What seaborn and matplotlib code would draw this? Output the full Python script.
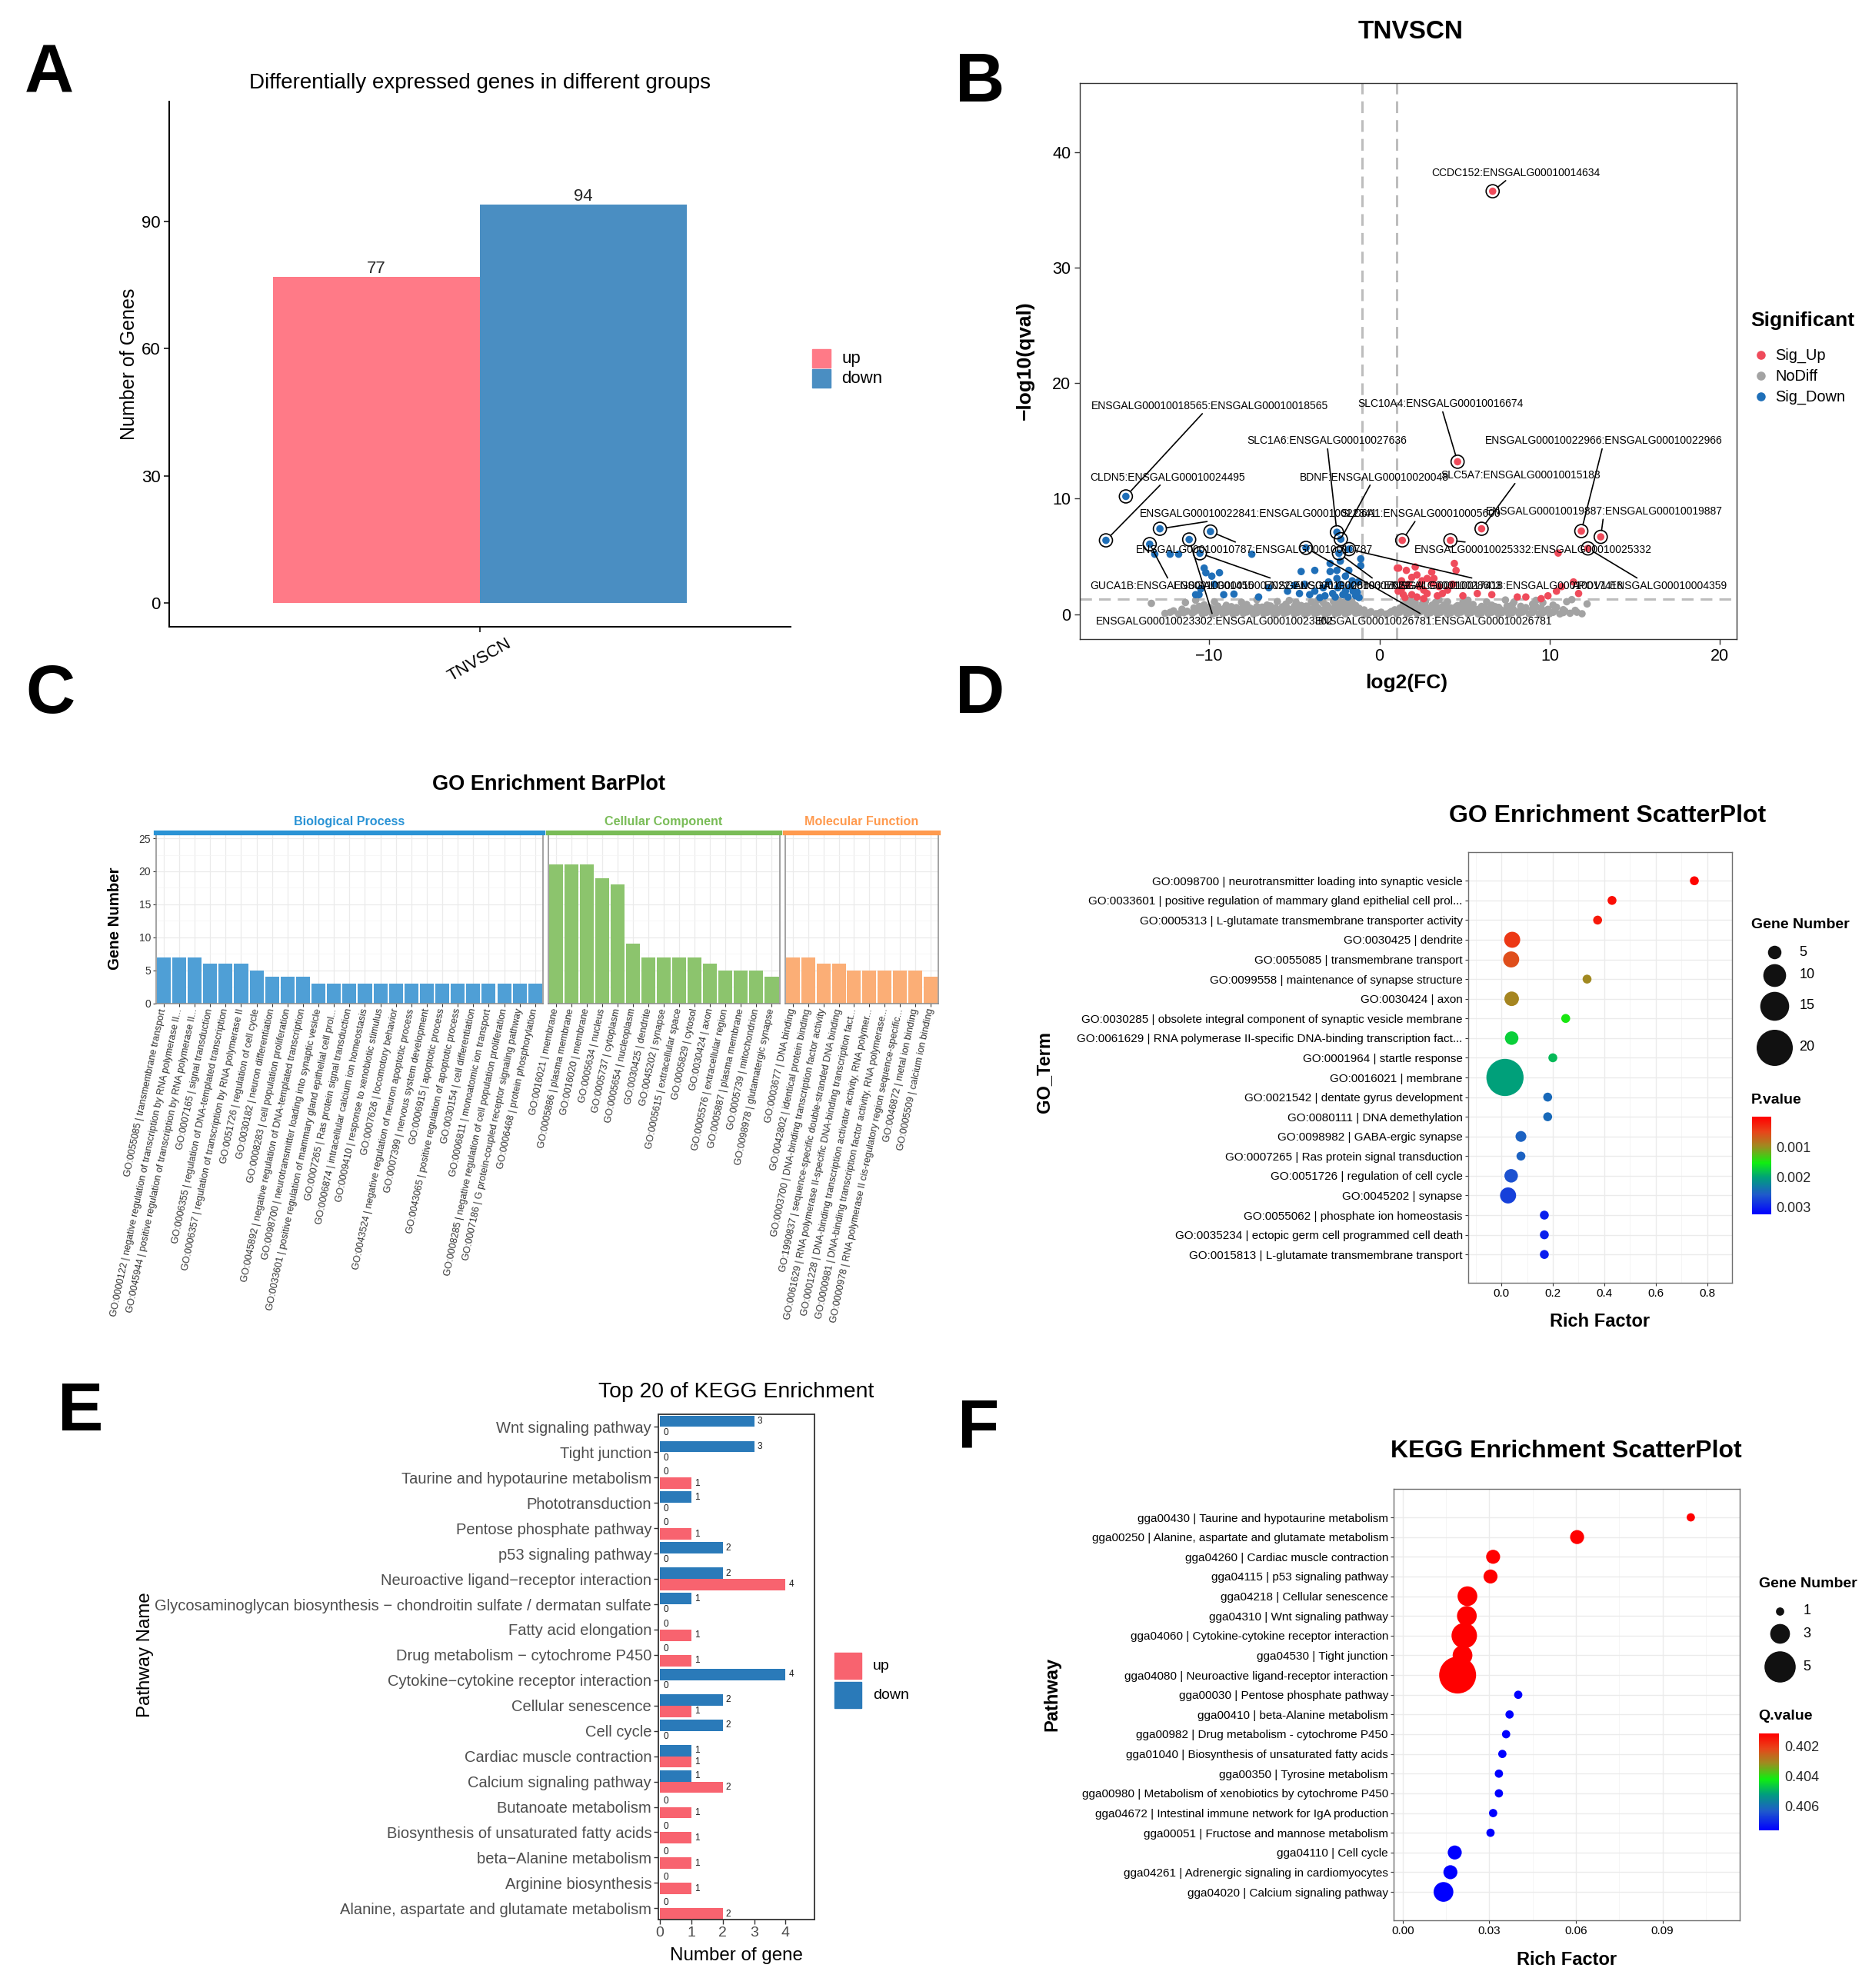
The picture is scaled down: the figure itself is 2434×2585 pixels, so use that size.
import numpy as np
import pandas as pd
import matplotlib
matplotlib.use("Agg")
import matplotlib.pyplot as plt
import seaborn as sns
from matplotlib.colors import LinearSegmentedColormap, Normalize
from matplotlib.patches import Rectangle
from matplotlib.ticker import MultipleLocator
import matplotlib.cm as mcm

# ============================ DATA ============================
# --- Panel A: DEG counts
deg_group = "TNVSCN"
deg_types = ["up", "down"]
deg_counts = [77, 94]

# --- Panel B: volcano (log2FC, -log10 qval)
vol_nodiff_x = [-12.6, -11.8, -11.0, -10.4, -9.8, -9.2, -8.6, -8.0, -7.4, -6.8, -6.2, -5.6, -5.0, -4.4,
                -3.8, -3.2, -2.6, -2.0, -1.4, -0.8, -0.2, 0.4, 1.0, 1.6, 2.2, 2.8, 3.4, 4.0, 4.6, 5.2,
                5.8, 6.4, 7.0, 7.6, 8.2, 8.8, 9.4, 10.0, 10.6, 11.2, 11.9,
                -12.1, -11.3, -10.7, -10.1, -9.5, -8.9, -8.3, -7.7, -7.1, -6.5, -5.9, -5.3, -4.7, -4.1,
                -3.5, -2.9, -2.3, -1.7, -1.1, -0.5, 0.1, 0.7, 1.3, 1.9, 2.5, 3.1, 3.7, 4.3, 4.9, 5.5,
                6.1, 6.7, 7.3, 7.9, 8.5, 9.1, 9.7, 10.3, 10.9, 11.5,
                -10.9, -10.0, -9.1, -8.4, -7.6, -6.9, -6.1, -5.4, -4.8, -4.2, -3.6, -3.0, -2.4, -1.8,
                -1.2, 1.2, 1.8, 2.4, 3.0, 3.6, 4.2, 4.8, 5.5, 6.2, 7.0, 7.8, 8.6, 9.5, 10.4,
                -13.4, -10.3, -9.0, -7.8, -6.6, -5.5, -4.6, -3.8, -3.1, -2.5, -1.9, -1.4, 1.4, 1.9,
                2.5, 3.1, 3.8, 4.6, 5.5, 6.6, 7.8, 9.0, 10.2, 12.2,
                -11.4, -9.7, -8.1, -6.0, -4.9, -4.0, -3.3, -2.7, -2.1, -1.6, 1.6, 2.1, 2.7, 3.3, 4.0,
                4.9, 6.3, 7.9, 9.6, 11.0,
                -10.8, -7.2, -5.3, -3.6, -2.4, -1.8, 1.8, 2.6, 3.5, 5.2, 7.4, 9.2, 11.3,
                -12.3, -11.5, -10.9, -10.2, -9.6, -9.0, -8.4, -7.8, -7.2, -6.6, -6.0, -5.4, -4.8,
                -4.2, -3.6, -3.0, -2.4, -1.8, -1.2, -0.6, 0.0, 0.6, 1.2, 1.8, 2.4, 3.0, 3.6, 4.2,
                4.8, 5.4, 6.0, 6.6, 7.2, 7.8, 8.4, 9.0, 9.6, 10.2, 10.8, 11.6,
                -11.6, -10.4, -9.8, -9.2, -8.6, -8.0, -7.3, -6.7, -6.2, -5.7, -5.1, -4.5, -3.9,
                -3.3, -2.7, -2.1, -1.5, -0.9, 0.9, 1.5, 2.1, 2.7, 3.3, 3.9, 4.5, 5.1, 5.8, 6.4,
                7.1, 7.7, 8.3, 9.0, 9.9, 10.8,
                -10.6, -9.5, -8.7, -8.0, -7.2, -6.4, -5.7, -5.0, -4.3, -3.7, -3.1, -2.6, -2.1,
                -1.6, 1.6, 2.1, 2.7, 3.3, 3.9, 4.5, 5.2, 6.0, 6.8, 7.5, 8.3, 9.2]
vol_nodiff_y = [0.08, 0.03, 0.10, 0.05, 0.02, 0.07, 0.04, 0.09, 0.03, 0.06, 0.02, 0.08, 0.05, 0.03,
                0.07, 0.02, 0.06, 0.04, 0.09, 0.03, 0.05, 0.02, 0.07, 0.04, 0.08, 0.03, 0.06, 0.02,
                0.09, 0.05, 0.03, 0.07, 0.04, 0.02, 0.08, 0.05, 0.03, 0.06, 0.04, 0.09, 0.05,
                0.30, 0.26, 0.35, 0.28, 0.33, 0.25, 0.38, 0.29, 0.34, 0.27, 0.31, 0.36, 0.26, 0.32,
                0.29, 0.37, 0.27, 0.33, 0.30, 0.22, 0.18, 0.24, 0.35, 0.28, 0.31, 0.26, 0.34, 0.29,
                0.36, 0.27, 0.32, 0.25, 0.30, 0.35, 0.28, 0.33, 0.26, 0.31, 0.27, 0.34,
                0.55, 0.60, 0.52, 0.58, 0.54, 0.62, 0.56, 0.51, 0.59, 0.57, 0.53, 0.61, 0.55, 0.58,
                0.52, 0.54, 0.60, 0.56, 0.51, 0.59, 0.55, 0.62, 0.53, 0.57, 0.60, 0.52, 0.58, 0.55, 0.61,
                0.95, 0.82, 0.78, 0.85, 0.80, 0.88, 0.76, 0.83, 0.79, 0.86, 0.81, 0.77, 0.84, 0.78,
                0.87, 0.80, 0.83, 0.76, 0.85, 0.79, 0.82, 0.88, 0.80, 0.90,
                1.02, 1.08, 1.04, 1.10, 1.03, 1.07, 1.01, 1.09, 1.05, 1.02, 1.06, 1.03, 1.10, 1.04,
                1.08, 1.02, 1.07, 1.05, 1.01, 1.09,
                1.22, 1.26, 1.20, 1.25, 1.21, 1.27, 1.23, 1.20, 1.26, 1.22, 1.24, 1.21, 1.27,
                0.17, 0.14, 0.19, 0.16, 0.13, 0.18, 0.15, 0.20, 0.14, 0.17, 0.12, 0.19, 0.16,
                0.13, 0.18, 0.15, 0.14, 0.19, 0.16, 0.12, 0.10, 0.13, 0.18, 0.15, 0.20, 0.14, 0.17,
                0.13, 0.19, 0.16, 0.12, 0.18, 0.15, 0.14, 0.19, 0.16, 0.13, 0.17, 0.15, 0.18,
                0.44, 0.41, 0.46, 0.42, 0.45, 0.40, 0.47, 0.43, 0.41, 0.46, 0.44, 0.42, 0.45,
                0.40, 0.47, 0.43, 0.41, 0.38, 0.39, 0.45, 0.42, 0.46, 0.41, 0.44, 0.40, 0.47, 0.43,
                0.45, 0.41, 0.44, 0.42, 0.46, 0.43, 0.40,
                0.68, 0.71, 0.66, 0.70, 0.67, 0.72, 0.65, 0.69, 0.71, 0.66, 0.70, 0.67, 0.72,
                0.68, 0.69, 0.66, 0.71, 0.67, 0.70, 0.65, 0.72, 0.68, 0.66, 0.71, 0.69, 0.67]
vol_down_x = [-13.2, -12.3, -11.8, -10.6, -10.2, -9.4, -9.7, -9.15, -10.5, -10.8, -8.55, -7.5, -6.5,
              -7.1, -4.6, -3.8, -4.4, -2.9, -2.9, -2.5, -2.5, -2.3, -2.0, -1.7, -1.55, -1.1, -3.3,
              -3.8, -2.75, -2.15, -1.4, -1.85, -3.2, -4.1, -4.7, -1.25, -2.45, -3.0, -5.0, -5.4,
              -1.8, -2.3, -1.1, -1.3, -1.6, -2.0, -2.6, -3.5, -1.2, -9.85, -10.3]
vol_down_y = [5.2, 5.2, 5.2, 1.7, 3.6, 3.6, 2.6, 1.7, 2.2, 1.7, 1.75, 5.2, 2.3,
              1.5, 3.7, 3.8, 2.6, 4.4, 3.7, 3.8, 3.1, 2.6, 3.3, 2.4, 2.0, 4.8, 2.3,
              2.0, 1.8, 1.7, 1.6, 1.5, 1.6, 1.7, 1.8, 2.8, 2.3, 2.8, 2.5, 2.0,
              3.8, 4.6, 4.2, 1.9, 2.9, 2.0, 1.5, 1.45, 1.45, 3.3, 4.0]
vol_up_x = [1.13, 1.58, 2.1, 2.2, 2.8, 1.3, 1.7, 1.3, 2.35, 3.1, 3.5, 3.2, 4.4, 4.5, 4.3, 3.7, 2.8,
            1.9, 1.4, 1.1, 3.4, 4.9, 5.75, 6.6, 8.1, 8.6, 9.5, 10.4, 10.5, 11.4, 11.7, 2.6, 1.05,
            3.07, 2.5, 1.9, 2.6, 4.0, 1.5, 2.2, 10.7, 9.9]
vol_up_y = [4.0, 3.8, 4.1, 3.4, 3.1, 2.9, 2.6, 2.2, 2.4, 2.7, 2.4, 3.1, 4.4, 3.8, 2.6, 1.8, 1.8,
            1.7, 1.7, 2.0, 1.6, 1.6, 1.8, 1.7, 1.5, 1.5, 1.35, 2.0, 5.3, 2.8, 1.8, 1.35, 4.0,
            3.65, 2.9, 3.2, 2.1, 2.1, 1.45, 1.5, 2.4, 1.6]
vol_label_genes = ["CCDC152:ENSGALG00010014634", "SLC10A4:ENSGALG00010016674",
                   "ENSGALG00010022966:ENSGALG00010022966", "ENSGALG00010019887:ENSGALG00010019887",
                   "SLC5A7:ENSGALG00010015183", "SLC6A1:ENSGALG00010005600",
                   "ENSGALG00010025332:ENSGALG00010025332", "APOV1:ENSGALG00010004359",
                   "ENSGALG00010017418:ENSGALG00010017418", "ENSGALG00010028603:ENSGALG00010028603",
                   "CLDN5:ENSGALG00010024495", "ENSGALG00010018565:ENSGALG00010018565",
                   "SLC1A6:ENSGALG00010027636", "BDNF:ENSGALG00010020048",
                   "ENSGALG00010022841:ENSGALG00010022841", "ENSGALG00010010787:ENSGALG00010010787",
                   "GUCA1B:ENSGALG00010001455", "ENSGALG00010023302:ENSGALG00010023302",
                   "ENSGALG00010007022:ENSGALG00010007022", "ENSGALG00010026781:ENSGALG00010026781"]
vol_label_x = [6.65, 4.59, 11.86, 13.0, 6.0, 1.34, 4.17, 12.25, -1.79, -2.38,
               -16.07, -14.9, -2.5, -2.27, -12.9, -9.93, -13.5, -11.18, -10.55, -4.32]
vol_label_y = [36.6, 13.2, 7.2, 6.7, 7.4, 6.4, 6.4, 5.7, 5.64, 5.28,
               6.4, 10.2, 7.1, 6.5, 7.4, 7.16, 6.07, 6.47, 5.28, 5.75]
vol_label_sig = ["Sig_Up"] * 8 + ["Sig_Down"] * 12

# --- Panel C: GO bar plot
go_bp_terms = ["GO:0055085 | transmembrane transport",
               "GO:0000122 | negative regulation of transcription by RNA polymerase II...",
               "GO:0045944 | positive regulation of transcription by RNA polymerase II...",
               "GO:0007165 | signal transduction",
               "GO:0006355 | regulation of DNA-templated transcription",
               "GO:0006357 | regulation of transcription by RNA polymerase II",
               "GO:0051726 | regulation of cell cycle",
               "GO:0030182 | neuron differentiation",
               "GO:0008283 | cell population proliferation",
               "GO:0045892 | negative regulation of DNA-templated transcription",
               "GO:0098700 | neurotransmitter loading into synaptic vesicle",
               "GO:0033601 | positive regulation of mammary gland epithelial cell prol...",
               "GO:0007265 | Ras protein signal transduction",
               "GO:0006874 | intracellular calcium ion homeostasis",
               "GO:0009410 | response to xenobiotic stimulus",
               "GO:0007626 | locomotory behavior",
               "GO:0043524 | negative regulation of neuron apoptotic process",
               "GO:0007399 | nervous system development",
               "GO:0006915 | apoptotic process",
               "GO:0043065 | positive regulation of apoptotic process",
               "GO:0030154 | cell differentiation",
               "GO:0006811 | monoatomic ion transport",
               "GO:0008285 | negative regulation of cell population proliferation",
               "GO:0007186 | G protein-coupled receptor signaling pathway",
               "GO:0006468 | protein phosphorylation"]
go_bp_counts = [7, 7, 7, 6, 6, 6, 5, 4, 4, 4, 3, 3, 3, 3, 3, 3, 3, 3, 3, 3, 3, 3, 3, 3, 3]
go_cc_terms = ["GO:0016021 | membrane", "GO:0005886 | plasma membrane", "GO:0016020 | membrane",
               "GO:0005634 | nucleus", "GO:0005737 | cytoplasm", "GO:0005654 | nucleoplasm",
               "GO:0030425 | dendrite", "GO:0045202 | synapse", "GO:0005615 | extracellular space",
               "GO:0005829 | cytosol", "GO:0030424 | axon", "GO:0005576 | extracellular region",
               "GO:0005887 | plasma membrane", "GO:0005739 | mitochondrion",
               "GO:0098978 | glutamatergic synapse"]
go_cc_counts = [21, 21, 21, 19, 18, 9, 7, 7, 7, 7, 6, 5, 5, 5, 4]
go_mf_terms = ["GO:0003677 | DNA binding", "GO:0042802 | identical protein binding",
               "GO:0003700 | DNA-binding transcription factor activity",
               "GO:1990837 | sequence-specific double-stranded DNA binding",
               "GO:0061629 | RNA polymerase II-specific DNA-binding transcription fact...",
               "GO:0001228 | DNA-binding transcription activator activity, RNA polymer...",
               "GO:0000981 | DNA-binding transcription factor activity, RNA polymerase...",
               "GO:0000978 | RNA polymerase II cis-regulatory region sequence-specific...",
               "GO:0046872 | metal ion binding", "GO:0005509 | calcium ion binding"]
go_mf_counts = [7, 7, 6, 6, 5, 5, 5, 5, 5, 4]

# --- Panel D: GO scatter
gos_terms = ["GO:0098700 | neurotransmitter loading into synaptic vesicle",
             "GO:0033601 | positive regulation of mammary gland epithelial cell prol...",
             "GO:0005313 | L-glutamate transmembrane transporter activity",
             "GO:0030425 | dendrite", "GO:0055085 | transmembrane transport",
             "GO:0099558 | maintenance of synapse structure", "GO:0030424 | axon",
             "GO:0030285 | obsolete integral component of synaptic vesicle membrane",
             "GO:0061629 | RNA polymerase II-specific DNA-binding transcription fact...",
             "GO:0001964 | startle response", "GO:0016021 | membrane",
             "GO:0021542 | dentate gyrus development", "GO:0080111 | DNA demethylation",
             "GO:0098982 | GABA-ergic synapse", "GO:0007265 | Ras protein signal transduction",
             "GO:0051726 | regulation of cell cycle", "GO:0045202 | synapse",
             "GO:0055062 | phosphate ion homeostasis",
             "GO:0035234 | ectopic germ cell programmed cell death",
             "GO:0015813 | L-glutamate transmembrane transport"]
gos_rich = [0.75, 0.43, 0.374, 0.042, 0.038, 0.333, 0.04, 0.25, 0.04, 0.20, 0.014,
            0.18, 0.18, 0.076, 0.076, 0.038, 0.026, 0.167, 0.167, 0.167]
gos_genes = [3, 3, 3, 7, 7, 3, 6, 3, 5, 3, 21, 3, 3, 4, 3, 5, 7, 3, 3, 3]
gos_pvalue = [0.00003, 0.0001, 0.00018, 0.0004, 0.00055, 0.00098, 0.00095, 0.0015, 0.00173,
              0.00186, 0.00202, 0.00248, 0.00248, 0.00254, 0.00254, 0.00267, 0.0028,
              0.00303, 0.00303, 0.00305]

# --- Panel E: KEGG top 20 (up / down)
kegg_paths = ["Wnt signaling pathway", "Tight junction", "Taurine and hypotaurine metabolism",
              "Phototransduction", "Pentose phosphate pathway", "p53 signaling pathway",
              "Neuroactive ligand\u2212receptor interaction",
              "Glycosaminoglycan biosynthesis \u2212 chondroitin sulfate / dermatan sulfate",
              "Fatty acid elongation", "Drug metabolism \u2212 cytochrome P450",
              "Cytokine\u2212cytokine receptor interaction", "Cellular senescence", "Cell cycle",
              "Cardiac muscle contraction", "Calcium signaling pathway", "Butanoate metabolism",
              "Biosynthesis of unsaturated fatty acids", "beta\u2212Alanine metabolism",
              "Arginine biosynthesis", "Alanine, aspartate and glutamate metabolism"]
kegg_down = [3, 3, 0, 1, 0, 2, 2, 1, 0, 0, 4, 2, 2, 1, 1, 0, 0, 0, 0, 0]
kegg_up = [0, 0, 1, 0, 1, 0, 4, 0, 1, 1, 0, 1, 0, 1, 2, 1, 1, 1, 1, 2]

# --- Panel F: KEGG scatter
keggs_terms = ["gga00430 | Taurine and hypotaurine metabolism",
               "gga00250 | Alanine, aspartate and glutamate metabolism",
               "gga04260 | Cardiac muscle contraction", "gga04115 | p53 signaling pathway",
               "gga04218 | Cellular senescence", "gga04310 | Wnt signaling pathway",
               "gga04060 | Cytokine-cytokine receptor interaction", "gga04530 | Tight junction",
               "gga04080 | Neuroactive ligand-receptor interaction",
               "gga00030 | Pentose phosphate pathway", "gga00410 | beta-Alanine metabolism",
               "gga00982 | Drug metabolism - cytochrome P450",
               "gga01040 | Biosynthesis of unsaturated fatty acids",
               "gga00350 | Tyrosine metabolism",
               "gga00980 | Metabolism of xenobiotics by cytochrome P450",
               "gga04672 | Intestinal immune network for IgA production",
               "gga00051 | Fructose and mannose metabolism", "gga04110 | Cell cycle",
               "gga04261 | Adrenergic signaling in cardiomyocytes",
               "gga04020 | Calcium signaling pathway"]
keggs_rich = [0.0998, 0.0604, 0.0313, 0.0304, 0.0224, 0.0222, 0.0213, 0.0207, 0.019, 0.040,
              0.037, 0.0358, 0.0345, 0.0333, 0.0333, 0.0313, 0.0304, 0.018, 0.0165, 0.0141]
keggs_genes = [1, 2, 2, 2, 3, 3, 4, 3, 6, 1, 1, 1, 1, 1, 1, 1, 1, 2, 2, 3]
keggs_qvalue = [0.40119] * 9 + [0.40761] * 11

# ============================ STYLE ============================
sns.set_theme(style="white")
plt.rcParams["font.family"] = ["Liberation Sans", "DejaVu Sans"]
plt.rcParams["axes.unicode_minus"] = True

W, H = 1470.0, 1561.0
fig = plt.figure(figsize=(24.34, 25.85), dpi=100)
fig.patch.set_facecolor("white")


def box(x0, y0, x1, y1):
    return [x0 / W, 1 - y1 / H, (x1 - x0) / W, (y1 - y0) / H]


def PT(d):
    return d * (2434.0 / W) * 72.0 / 100.0


ov = fig.add_axes([0, 0, 1, 1], zorder=20)
ov.set_xlim(0, W)
ov.set_ylim(H, 0)
ov.axis("off")
ov.patch.set_alpha(0)


def T(x, y, s, size, bold=False, ha="center", va="center", rot=0, color="black"):
    ov.text(x, y, s, fontsize=size, fontweight="bold" if bold else "normal",
            ha=ha, va=va, rotation=rot, color=color)


CMAP = LinearSegmentedColormap.from_list(
    "pv", [(0.0, "#FF0000"), (0.15, "#E8451A"), (0.30, "#A08A20"), (0.47, "#10EE10"),
           (0.62, "#00A07A"), (0.80, "#1F5ACB"), (1.0, "#0000FF")])

# panel letters
for L, x, y in [("A", 19, 72.8), ("B", 750, 80), ("C", 20, 560), ("D", 750, 560),
                ("E", 45, 1123), ("F", 752, 1137)]:
    T(x, y, L, 64, bold=True, ha="left", va="baseline")

# ============================ PANEL A ============================
UPC, DNC = "#FF7A87", "#4A8EC2"
axA = fig.add_axes(box(132.6, 79.7, 620.6, 492.3))
dfA = pd.DataFrame({"group": [deg_group] * len(deg_types), "type": deg_types, "count": deg_counts})
sns.barplot(data=dfA, x="group", y="count", hue="type", hue_order=deg_types,
            palette={"up": UPC, "down": DNC}, width=0.9, saturation=1, ax=axA,
            legend=False, linewidth=0)
for p in axA.patches:
    h = p.get_height()
    axA.text(p.get_x() + p.get_width() / 2, h, f"{h:.0f}", ha="center", va="bottom", fontsize=16)
axA.set_xlim(-0.676, 0.676)
axA.set_ylim(-5.65, 118.3)
axA.set_yticks([0, 30, 60, 90])
axA.set_xlabel("")
axA.set_ylabel("")
for s in ["top", "right"]:
    axA.spines[s].set_visible(False)
for s in ["left", "bottom"]:
    axA.spines[s].set_color("black")
    axA.spines[s].set_linewidth(1.4)
axA.tick_params(axis="both", left=True, bottom=True, length=5, width=1.1, color="black",
                labelsize=16, labelcolor="black", pad=3)
axA.set_xticks([0])
axA.set_xticklabels([deg_group], rotation=30, ha="center", fontsize=16)
T(377, 65.2, "Differentially expressed genes in different groups", 20)
T(101.6, 286, "Number of Genes", 18, rot=90)
ov.add_patch(Rectangle((637.6, 273.9), 14.8, 14.5, color=UPC))
ov.add_patch(Rectangle((637.6, 289.9), 14.8, 14.5, color=DNC))
T(661, 281.5, "up", 16, ha="left")
T(661, 297.5, "down", 16, ha="left")

# ============================ PANEL B ============================
VOLC = {"Sig_Up": "#EF4B5B", "NoDiff": "#A3A3A3", "Sig_Down": "#1F6FB8"}
axB = fig.add_axes(box(848, 65.3, 1363.9, 501.7))
dfV = pd.DataFrame({
    "log2FC": vol_nodiff_x + vol_down_x + vol_up_x + vol_label_x,
    "qval": vol_nodiff_y + vol_down_y + vol_up_y + vol_label_y,
    "sig": ["NoDiff"] * len(vol_nodiff_x) + ["Sig_Down"] * len(vol_down_x)
           + ["Sig_Up"] * len(vol_up_x) + vol_label_sig})
axB.axvline(-1, color="#BDBDBD", lw=2.2, ls=(0, (5, 3)), zorder=1)
axB.axvline(1, color="#BDBDBD", lw=2.2, ls=(0, (5, 3)), zorder=1)
axB.axhline(1.3, color="#BDBDBD", lw=2.2, ls=(0, (5, 3)), zorder=1)
sns.scatterplot(data=dfV, x="log2FC", y="qval", hue="sig", palette=VOLC, s=48, linewidth=0,
                legend=False, ax=axB, zorder=2)
axB.scatter(vol_label_x, vol_label_y, s=150, facecolors="none", edgecolors="black",
            linewidths=1.2, zorder=3)
VOL_LABEL_POS = {
    "CCDC152:ENSGALG00010014634": (7.99, 38.2),
    "SLC10A4:ENSGALG00010016674": (3.58, 18.2),
    "ENSGALG00010022966:ENSGALG00010022966": (13.2, 15.0),
    "ENSGALG00010019887:ENSGALG00010019887": (13.2, 8.9),
    "SLC5A7:ENSGALG00010015183": (8.3, 12.0),
    "SLC6A1:ENSGALG00010005600": (2.4, 8.71),
    "ENSGALG00010025332:ENSGALG00010025332": (9.05, 5.57),
    "APOV1:ENSGALG00010004359": (15.9, 2.46),
    "ENSGALG00010017418:ENSGALG00010017418": (7.4, 2.46),
    "ENSGALG00010028603:ENSGALG00010028603": (0.2, 2.46),
    "CLDN5:ENSGALG00010024495": (-12.43, 11.86),
    "ENSGALG00010018565:ENSGALG00010018565": (-9.98, 18.04),
    "SLC1A6:ENSGALG00010027636": (-3.1, 15.0),
    "BDNF:ENSGALG00010020048": (-0.3, 11.86),
    "ENSGALG00010022841:ENSGALG00010022841": (-7.1, 8.71),
    "ENSGALG00010010787:ENSGALG00010010787": (-7.36, 5.57),
    "GUCA1B:ENSGALG00010001455": (-12.2, 2.46),
    "ENSGALG00010023302:ENSGALG00010023302": (-9.69, -0.61),
    "ENSGALG00010007022:ENSGALG00010007022": (-5.1, 2.46),
    "ENSGALG00010026781:ENSGALG00010026781": (3.2, -0.61),
}
for g, x, y in zip(vol_label_genes, vol_label_x, vol_label_y):
    tx, ty = VOL_LABEL_POS[g]
    axB.annotate(g, xy=(x, y), xytext=(tx, ty), textcoords="data", ha="center", va="center",
                 fontsize=10, color="black", zorder=4,
                 arrowprops=dict(arrowstyle="-", color="black", lw=1.2, shrinkA=0, shrinkB=6))
axB.set_xlim(-17.6, 21.0)
axB.set_ylim(-2.13, 45.95)
axB.set_xticks([-10, 0, 10, 20])
axB.set_yticks([0, 10, 20, 30, 40])
axB.set_xlabel("")
axB.set_ylabel("")
for s in axB.spines.values():
    s.set_color("#333333")
    s.set_linewidth(1.0)
axB.tick_params(axis="both", left=True, bottom=True, length=5, width=1.0, color="#333333",
                labelsize=15.5, labelcolor="black")
T(1108, 25, "TNVSCN", 24, bold=True)
T(1104.7, 536, "log2(FC)", 19, bold=True)
T(805, 283, "\u2212log10(qval)", 19, bold=True, rot=90)
T(1375, 251.8, "Significant", 19, bold=True, ha="left")
ov.scatter([1383] * 3, [279, 295.3, 311.6], s=PT(7) ** 2,
           c=[VOLC["Sig_Up"], VOLC["NoDiff"], VOLC["Sig_Down"]], linewidths=0)
for yy, lab in zip([279, 295.3, 311.6], ["Sig_Up", "NoDiff", "Sig_Down"]):
    T(1394, yy, lab, 14.4, ha="left")

# ============================ PANEL C ============================
facets = [("Biological Process", go_bp_terms, go_bp_counts, "#4F9FD6", "#2A93D5", 122.5, 426.3),
          ("Cellular Component", go_cc_terms, go_cc_counts, "#8CC46D", "#79BC57", 430.5, 612.1),
          ("Molecular Function", go_mf_terms, go_mf_counts, "#FBAE76", "#FF9A4E", 616.4, 737.0)]
for i, (name, terms, counts, fill, strip, x0, x1) in enumerate(facets):
    ax = fig.add_axes(box(x0, 654.1, x1, 787.8))
    df = pd.DataFrame({"term": terms, "count": counts})
    sns.barplot(data=df, x="term", y="count", color=fill, width=0.9, saturation=1, ax=ax,
                linewidth=0, zorder=2)
    ax.set_xlim(-0.5, len(terms) - 0.5)
    ax.set_ylim(0, 25.8)
    ax.set_yticks([0, 5, 10, 15, 20, 25])
    ax.yaxis.set_minor_locator(MultipleLocator(2.5))
    ax.set_axisbelow(True)
    ax.grid(True, which="major", color="#EBEBEB", lw=0.9)
    ax.grid(True, which="minor", axis="y", color="#F4F4F4", lw=0.5)
    ax.set_xlabel("")
    ax.set_ylabel("")
    ax.set_xticks(range(len(terms)))
    ax.set_xticklabels(terms, rotation=78, ha="right", va="center", rotation_mode="anchor",
                       fontsize=9, color="#333333")
    ax.tick_params(axis="x", bottom=True, length=3, width=0.8, color="#333333", pad=2)
    ax.tick_params(which="minor", length=0)
    if i == 0:
        ax.tick_params(axis="y", left=True, length=3, width=0.8, color="#333333",
                       labelsize=10, labelcolor="#333333", pad=2)
    else:
        ax.set_yticklabels([])
        ax.tick_params(axis="y", left=False, length=0)
    for s in ["left", "right", "bottom"]:
        ax.spines[s].set_color("#8A8A8A")
        ax.spines[s].set_linewidth(1.1)
    ax.spines["top"].set_color(strip)
    ax.spines["top"].set_linewidth(4.5)
    ax.annotate(name, xy=(0.5, 1.0), xycoords="axes fraction", xytext=(0, 5),
                textcoords="offset points", ha="center", va="bottom", color=strip,
                fontsize=11.6, fontweight="bold")
T(431, 616, "GO Enrichment BarPlot", 19.5, bold=True)
T(90, 721, "Gene Number", 14.7, bold=True, rot=90)

# ============================ PANEL D ============================
DV = [3, 4, 5, 6, 7, 10, 15, 20, 21]
DD = [7, 8.5, 10.6, 11.4, 12.6, 17.9, 22.7, 28.4, 29.2]
SIZE_D = {v: PT(np.interp(v, DV, DD)) ** 2 for v in sorted(set(gos_genes))}
NORM_D = Normalize(0, 0.00326)
axD = fig.add_axes(box(1152.7, 669.2, 1360, 1007.4))
dfD = pd.DataFrame({"term": gos_terms, "rich": gos_rich, "genes": gos_genes, "pvalue": gos_pvalue})
sns.scatterplot(data=dfD, x="rich", y="term", hue="pvalue", size="genes", sizes=SIZE_D,
                palette=CMAP, hue_norm=NORM_D, linewidth=0, legend=False, ax=axD, zorder=3)
axD.set_ylim(len(gos_terms) - 1 + 1.45, -1.45)
axD.set_xlim(-0.13, 0.896)
axD.set_xticks([0, 0.2, 0.4, 0.6, 0.8])
axD.set_xticklabels(["0.0", "0.2", "0.4", "0.6", "0.8"])
axD.set_xticks([-0.1, 0.1, 0.3, 0.5, 0.7], minor=True)
axD.set_axisbelow(True)
axD.grid(True, which="major", color="#EBEBEB", lw=1.0)
axD.grid(True, which="minor", axis="x", color="#F4F4F4", lw=0.6)
axD.set_xlabel("")
axD.set_ylabel("")
for s in axD.spines.values():
    s.set_color("#6E6E6E")
    s.set_linewidth(1.0)
axD.tick_params(axis="both", which="major", left=True, bottom=True, length=3, width=0.8,
                color="#333333", labelsize=11, labelcolor="black", pad=2)
axD.tick_params(which="minor", length=0)
T(1262, 641, "GO Enrichment ScatterPlot", 23, bold=True)
T(1256, 1038, "Rich Factor", 17, bold=True)
T(820, 842, "GO_Term", 17, bold=True, rot=90)
T(1375, 726.4, "Gene Number", 14, bold=True, ha="left")
for v, yy in zip([5, 10, 15, 20], [747.6, 765.6, 789.7, 822.2]):
    ov.scatter([1393], [yy], s=PT(np.interp(v, DV, DD)) ** 2, color="#111111", linewidths=0)
    T(1413, yy, str(v), 13, ha="left")
T(1375, 863.6, "P.value", 14, bold=True, ha="left")
caxD = fig.add_axes(box(1375.5, 877, 1390.6, 953.6))
cbD = fig.colorbar(mcm.ScalarMappable(norm=NORM_D, cmap=CMAP), cax=caxD)
cbD.set_ticks([0.001, 0.002, 0.003])
cbD.set_ticklabels(["0.001", "0.002", "0.003"])
caxD.invert_yaxis()
cbD.outline.set_visible(False)
caxD.tick_params(labelsize=13, length=3, width=1, color="white", direction="in", pad=5)

# ============================ PANEL E ============================
KUP, KDN = "#F8636F", "#2A7AB9"
axE = fig.add_axes(box(516.7, 1110.5, 639.6, 1507.5))
dfE = pd.DataFrame({"path": kegg_paths * 2,
                    "type": ["down"] * len(kegg_paths) + ["up"] * len(kegg_paths),
                    "n": kegg_down + kegg_up})
sns.barplot(data=dfE, y="path", x="n", hue="type", hue_order=["down", "up"],
            palette={"down": KDN, "up": KUP}, orient="h", width=0.9, saturation=1,
            ax=axE, legend=False, linewidth=0)
for p in axE.patches:
    w = p.get_width()
    axE.text(w + 0.18, p.get_y() + p.get_height() / 2, f"{w:.0f}", ha="center", va="center",
             fontsize=8.5, color="#1A1A1A")
axE.set_xlim(-0.06, 4.92)
axE.set_ylim(len(kegg_paths) - 1 + 0.46, -0.5)
axE.set_xticks([0, 1, 2, 3, 4])
axE.set_xlabel("")
axE.set_ylabel("")
for s in axE.spines.values():
    s.set_color("#333333")
    s.set_linewidth(1.3)
axE.tick_params(axis="x", bottom=True, length=4, width=1.0, color="#333333", labelsize=14,
                labelcolor="#4D4D4D", pad=2)
axE.tick_params(axis="y", left=True, length=4, width=1.0, color="#333333", labelsize=14.5,
                labelcolor="#4D4D4D", pad=2)
T(578, 1093, "Top 20 of KEGG Enrichment", 20.4)
T(578, 1535.7, "Number of gene", 17.4)
T(113.9, 1299, "Pathway Name", 17.3, rot=90)
ov.add_patch(Rectangle((655.5, 1297.5), 20.7, 20.7, color=KUP))
ov.add_patch(Rectangle((655.5, 1320.5), 20.7, 20.7, color=KDN))
T(685.5, 1308.5, "up", 14, ha="left")
T(685.5, 1331, "down", 14, ha="left")

# ============================ PANEL F ============================
SIZE_F = {v: PT(6.5 + 4.5 * (v - 1)) ** 2 for v in sorted(set(keggs_genes))}
NORM_F = Normalize(0.40119, 0.40761)
axF = fig.add_axes(box(1094.3, 1169, 1366, 1508))
dfF = pd.DataFrame({"term": keggs_terms, "rich": keggs_rich, "genes": keggs_genes,
                    "qvalue": keggs_qvalue})
sns.scatterplot(data=dfF, x="rich", y="term", hue="qvalue", size="genes", sizes=SIZE_F,
                palette=CMAP, hue_norm=NORM_F, linewidth=0, legend=False, ax=axF, zorder=3)
axF.set_ylim(len(keggs_terms) - 1 + 1.45, -1.45)
axF.set_xlim(-0.0032, 0.1167)
axF.set_xticks([0, 0.03, 0.06, 0.09])
axF.set_xticklabels(["0.00", "0.03", "0.06", "0.09"])
axF.set_xticks([0.015, 0.045, 0.075, 0.105], minor=True)
axF.set_axisbelow(True)
axF.grid(True, which="major", color="#EBEBEB", lw=1.0)
axF.grid(True, which="minor", axis="x", color="#F4F4F4", lw=0.6)
axF.set_xlabel("")
axF.set_ylabel("")
for s in axF.spines.values():
    s.set_color("#6E6E6E")
    s.set_linewidth(1.0)
axF.tick_params(axis="both", which="major", left=True, bottom=True, length=3, width=0.8,
                color="#333333", labelsize=11, labelcolor="black", pad=2)
axF.tick_params(which="minor", length=0)
T(1230, 1139.4, "KEGG Enrichment ScatterPlot", 23, bold=True)
T(1230, 1539.2, "Rich Factor", 17, bold=True)
T(826, 1330, "Pathway", 17, bold=True, rot=90)
T(1381, 1243.8, "Gene Number", 14, bold=True, ha="left")
for v, yy in zip([1, 3, 5], [1265, 1282.8, 1308.8]):
    ov.scatter([1397.4], [yy], s=PT(6.5 + 4.5 * (v - 1)) ** 2, color="#111111", linewidths=0)
    T(1416, yy, str(v), 13, ha="left")
T(1381, 1347.8, "Q.value", 14, bold=True, ha="left")
caxF = fig.add_axes(box(1381, 1361.4, 1397, 1437.3))
cbF = fig.colorbar(mcm.ScalarMappable(norm=NORM_F, cmap=CMAP), cax=caxF)
cbF.set_ticks([0.402, 0.404, 0.406])
cbF.set_ticklabels(["0.402", "0.404", "0.406"])
caxF.invert_yaxis()
cbF.outline.set_visible(False)
caxF.tick_params(labelsize=13, length=3, width=1, color="white", direction="in", pad=5)

fig.savefig("out.png", dpi=100, facecolor="white")
